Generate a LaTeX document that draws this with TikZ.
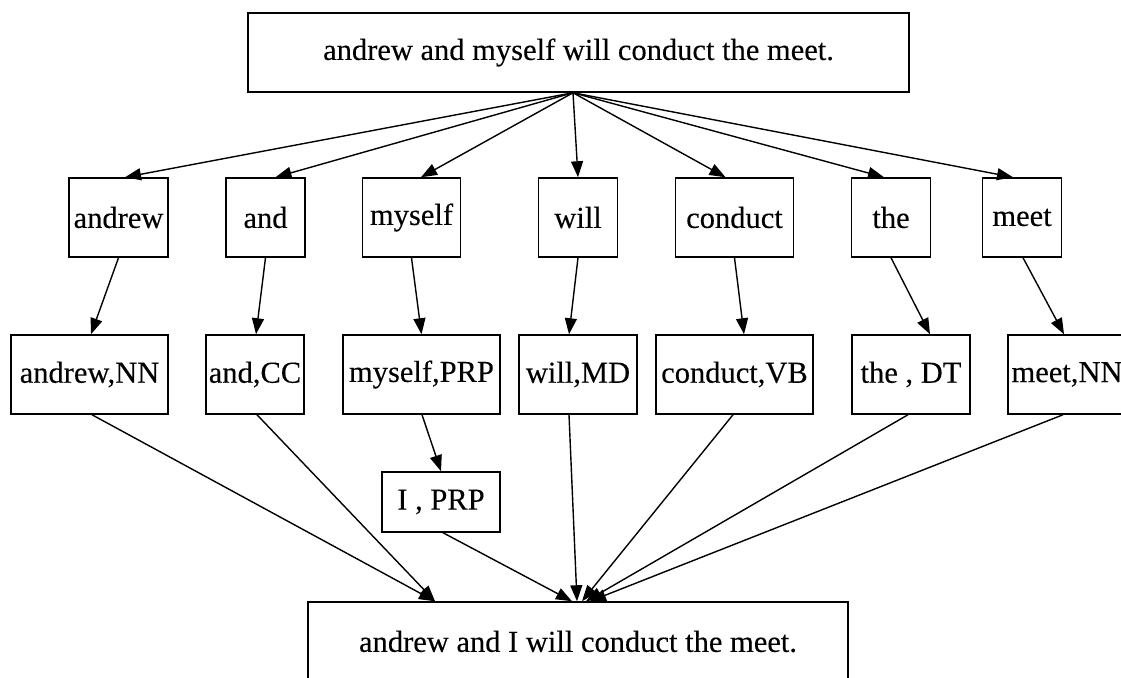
\documentclass[tikz,border=0pt]{standalone}
\usepackage{fontspec}
\setmainfont{Liberation Serif}[FakeBold=0.2]
\usetikzlibrary{arrows.meta}
\begin{document}
\begin{tikzpicture}[x=1pt,y=-1pt,
  box/.style={draw, line width=1.5pt, inner sep=0pt, font=\fontsize{30.5}{34}\selectfont},
  link/.style={line width=1.4pt, -{Triangle[length=16pt,width=12pt]}},
]
\useasboundingbox[fill=white] (0,0) rectangle (1121,677);

% sentence in
\node[box, minimum width=661pt, minimum height=79pt] (top) at (578.5,52.5) {andrew and myself will conduct the meet.};

% tokens
\node[box, minimum width=99pt,  minimum height=79pt] (andrew)  at (118.5,217.5) {andrew};
\node[box, minimum width=79pt,  minimum height=79pt] (and)     at (265.5,217.5) {and};
\node[box, minimum width=98pt,  minimum height=79pt] (myself)  at (411.5,217.5) {myself};
\node[box, minimum width=79pt,  minimum height=79pt] (will)    at (578,217.5) {will};
\node[box, minimum width=118pt, minimum height=79pt] (conduct) at (734.5,217.5) {conduct};
\node[box, minimum width=79pt,  minimum height=79pt] (the)     at (891,217.5) {the};
\node[box, minimum width=79pt,  minimum height=79pt] (meet)    at (1022,217.5) {meet};

% tagged tokens
\node[box, minimum width=157pt, minimum height=79pt] (andrewNN)  at (89.5,374.5) {andrew,NN};
\node[box, minimum width=98pt,  minimum height=79pt] (andCC)     at (255,374.5) {and,CC};
\node[box, minimum width=157pt, minimum height=79pt] (myselfPRP) at (421.5,374.5) {myself,PRP};
\node[box, minimum width=118pt, minimum height=79pt] (willMD)    at (578,374.5) {will,MD};
\node[box, minimum width=157pt, minimum height=79pt] (conductVB) at (734.5,374.5) {conduct,VB};
\node[box, minimum width=118pt, minimum height=79pt] (theDT)     at (911,374.5) {the , DT};
\node[box, minimum width=118pt, minimum height=79pt] (meetNN)    at (1067,374.5) {meet,NN};

% replacement
\node[box, minimum width=118pt, minimum height=60pt] (IPRP) at (441,502) {I , PRP};

% sentence out
\node[box, minimum width=540pt, minimum height=79pt] (bottom) at (578,641.5) {andrew and I will conduct the meet.};

% split into tokens
\coordinate (hub) at ([xshift=-5.5pt]top.south);
\draw[link] (hub) -- ([xshift=6.5pt]andrew.north);
\draw[link] (hub) -- ([xshift=10pt]and.north);
\draw[link] (hub) -- ([xshift=9.5pt]myself.north);
\draw[link] (hub) -- (will.north);
\draw[link] (hub) -- ([xshift=-9pt]conduct.north);
\draw[link] (hub) -- ([xshift=-7pt]the.north);
\draw[link] (hub) -- ([xshift=-9pt]meet.north);

% tagging
\draw[link] (andrew.south) -- ([xshift=1.5pt]andrewNN.north);
\draw[link] (and.south) -- ([xshift=1pt]andCC.north);
\draw[link] (myself.south) -- (myselfPRP.north);
\draw[link] (will.south) -- ([xshift=-9pt]willMD.north);
\draw[link] (conduct.south) -- ([xshift=9.5pt]conductVB.north);
\draw[link] (the.south) -- ([xshift=19pt]theDT.north);
\draw[link] ([xshift=1pt]meet.south) -- ([xshift=-3pt]meetNN.north);

% pronoun correction
\draw[link] ([xshift=0.5pt]myselfPRP.south) -- (IPRP.north);

% merge into the corrected sentence
\draw[link] ([xshift=2.5pt]andrewNN.south) -- ([xshift=-143pt]bottom.north);
\draw[link] ([xshift=2pt]andCC.south) -- ([xshift=-143pt]bottom.north);
\draw[link] ([xshift=2pt]IPRP.south) -- ([xshift=-6pt]bottom.north);
\draw[link] ([xshift=-9pt]willMD.south) -- ([xshift=-1pt]bottom.north);
\draw[link] ([xshift=-1.5pt]conductVB.south) -- ([xshift=4pt]bottom.north);
\draw[link] ([xshift=-3pt]theDT.south) -- ([xshift=8pt]bottom.north);
\draw[link] ([xshift=-4pt]meetNN.south) -- ([xshift=12pt]bottom.north);
\end{tikzpicture}
\end{document}
